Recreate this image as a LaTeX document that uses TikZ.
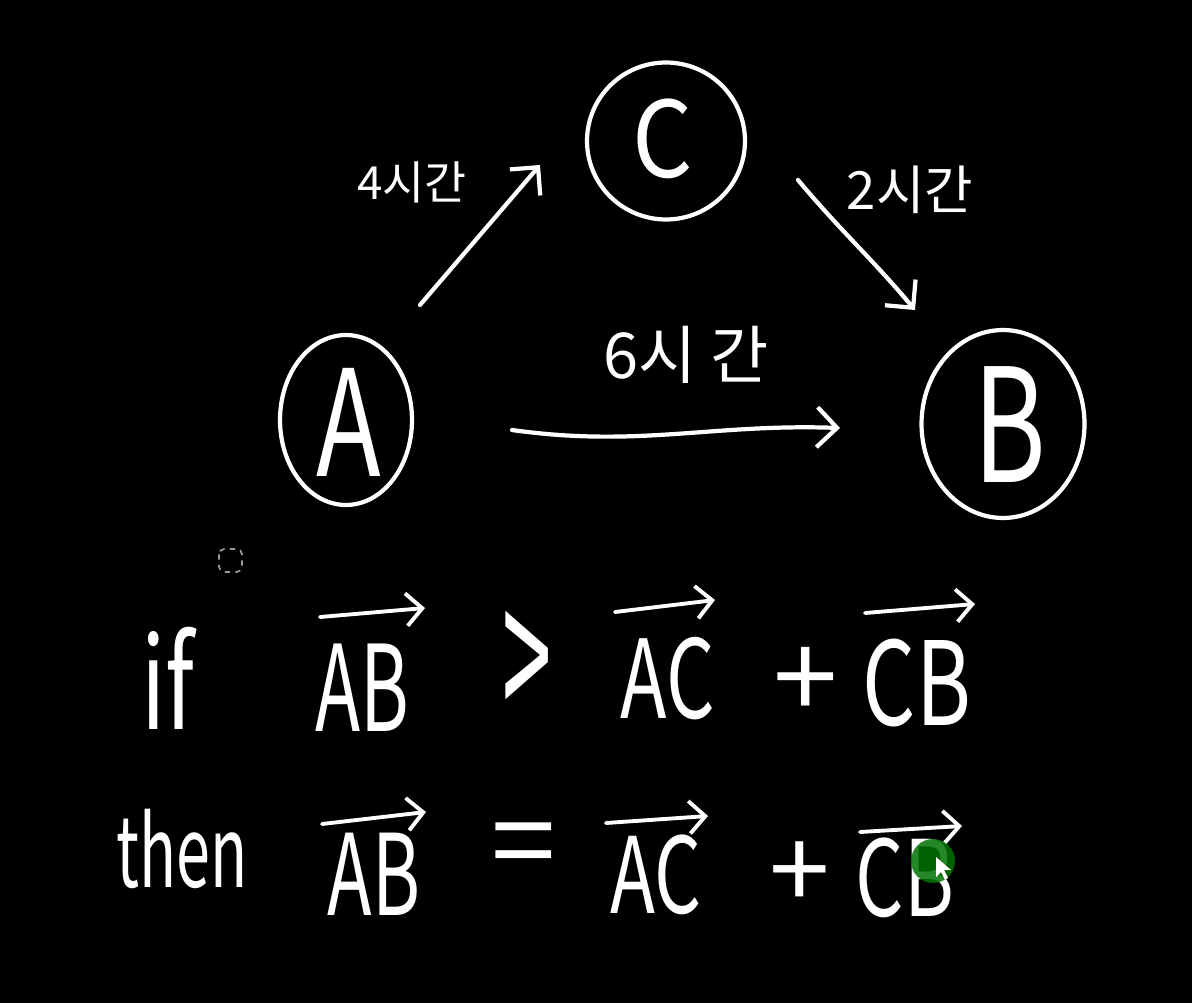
\documentclass[tikz,border=0pt]{standalone}
\usepackage{fontspec}
\setmainfont{Noto Sans CJK KR}
\newfontfamily\kr{Noto Sans CJK KR}
\usetikzlibrary{arrows.meta,shapes.geometric,calc}
\tikzset{
  hw/.style={text=white, inner sep=0pt, outer sep=0pt},
  ring/.style={draw=white, line width=2.4pt, ellipse, inner sep=0pt},
  edge/.style={draw=white, line width=2.4pt, line cap=round, -{Straight Barb[length=4mm,width=8mm,line width=2.4pt]}},
  vec/.style={draw=white, line width=2.2pt, line cap=round, -{Straight Barb[length=3.2mm,width=6.5mm,line width=2.2pt]}},
  lbl/.style={text=white, inner sep=0pt, font=\kr},
}
\newcommand{\fs}[1]{\fontsize{#1}{#1}\selectfont}
\begin{document}
\begin{tikzpicture}[x=0.02cm, y=-0.02cm]
\fill[black] (0,0) rectangle (1192,1003);
\useasboundingbox (0,0) rectangle (1192,1003);

% circled nodes
\node[ring, minimum width=2.64cm, minimum height=3.4cm] (A) at (346,420) {};
\node[hw, font=\fs{84}] (Al) at (349,422) {\scalebox{0.72}[1]{A}};
\node[ring, minimum width=3.16cm, minimum height=3.14cm] (C) at (666,141) {};
\node[hw, font=\fs{60}] (Cl) at (663,139) {\scalebox{0.9}[1]{C}};
\node[ring, minimum width=3.26cm, minimum height=3.76cm] (B) at (1003,424) {};
\node[hw, font=\fs{90}] (Bl) at (1010,425) {\scalebox{0.7}[1]{B}};

% connectors
\coordinate (a1) at ($(A)+(74,-115)$);
\coordinate (c1) at ($(C)+(-126,24)$);
\draw[edge] (a1) -- (c1);
\coordinate (c2) at ($(C)+(132,39)$);
\coordinate (b1) at ($(B)+(-88,-114)$);
\draw[edge] (c2) to[out=-50,in=130] (b1);
\coordinate (a2) at ($(A)+(166,10)$);
\coordinate (b2) at ($(B)+(-163,4)$);
\draw[edge] (a2) to[out=-8,in=178] (b2);

% labels
\node[lbl, font=\kr\fs{26}] (l4) at (412,182) {4시간};
\node[lbl, font=\kr\fs{30}] (l2) at (910,190) {2시간};
\node[lbl, font=\kr\fs{36}] (l6) at (686,355) {6시 간};

% dashed selection square
\draw[gray!80, dashed, line width=1pt, rounded corners=3pt] (219,549) rectangle (242,572);

% row 1
\node[hw, font=\fs{72}] (if) at (168,678) {\scalebox{0.7}[1]{if}};
\node[hw, font=\fs{68}, anchor=south] (AB1) at (362,731) {\scalebox{0.62}[1]{AB}};
\draw[vec] (320,617) -- (425,608);
\node[hw, font=\fs{56}] (gt) at (527,670) {\scalebox{0.9}[2.0]{>}};
\node[hw, font=\fs{62}, anchor=south] (AC1) at (668,720) {\scalebox{0.7}[1]{AC}};
\draw[vec] (615,612) -- (715,600);
\node[hw, font=\fs{66}] (p1) at (806,683) {+};
\node[hw, font=\fs{66}, anchor=south] (CB1) at (917,727) {\scalebox{0.72}[1]{CB}};
\draw[vec] (865,613) -- (975,604);

% row 2
\node[hw, font=\fs{56}, anchor=south] (then) at (182,889) {\scalebox{0.62}[1]{then}};
\node[hw, font=\fs{64}, anchor=south] (AB2) at (374,915) {\scalebox{0.65}[1]{AB}};
\draw[vec] (322,824) -- (426,812);
\node[hw, font=\fs{66}] (eq) at (524,853) {=};
\node[hw, font=\fs{60}, anchor=south] (AC2) at (656,915) {\scalebox{0.7}[1]{AC}};
\draw[vec] (606,823) -- (708,816);
\node[hw, font=\fs{62}] (p2) at (800,876) {+};
\node[hw, font=\fs{60}, anchor=south] (CB2) at (905,918) {\scalebox{0.72}[1]{CB}};
\draw[vec] (860,832) -- (962,826);

% cursor highlight
\fill[green!45!black, opacity=0.85] (933,861) circle (22);
\fill[white] (936,857) -- (936,877) -- (941,872) -- (945,880) -- (948,878) -- (944,870) -- (951,870) -- cycle;
\end{tikzpicture}
\end{document}
